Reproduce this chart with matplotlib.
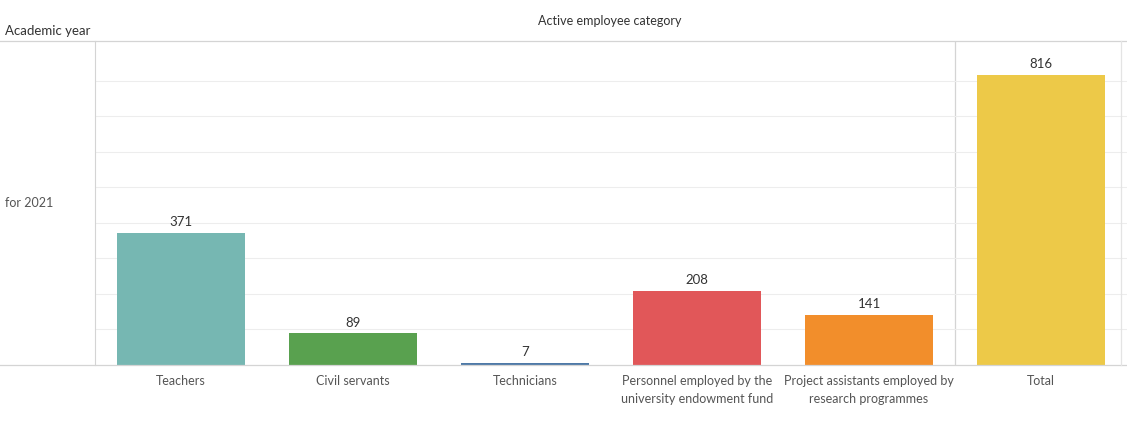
import matplotlib.pyplot as plt
from matplotlib.lines import Line2D

categories = ['Teachers', 'Civil servants', 'Technicians',
              'Personnel employed by the\nuniversity endowment fund',
              'Project assistants employed by\nresearch programmes', 'Total']
values = [371, 89, 7, 208, 141, 816]
colors = ['#76B7B2', '#59A14F', '#4E79A7', '#E15759', '#F28E2B', '#EDC948']
row_label = 'for 2021'

plt.rcParams['font.family'] = ['Lato', 'DejaVu Sans']

W, H = 1127, 423
fig = plt.figure(figsize=(W / 100, H / 100), dpi=100)
x0, x1, y0, y1 = 95, 1127, 41, 365
ax = fig.add_axes([x0 / W, 1 - y1 / H, (x1 - x0) / W, (y1 - y0) / H])

xs = list(range(len(categories)))
ax.bar(xs, values, width=0.744, color=colors, zorder=2)
for x, v in zip(xs, values):
    ax.annotate(str(v), (x, v), xytext=(0, 3.5), textcoords='offset points',
                ha='center', va='bottom', fontsize=9.5, color='#333333')

ax.set_xlim(-0.5, 5.5)
ax.set_ylim(0, 912)
ax.set_yticks(range(100, 900, 100))
ax.yaxis.grid(True, color='#ededed', linewidth=0.8, zorder=0)
ax.tick_params(axis='y', left=False, labelleft=False)
ax.set_xticks(xs)
ax.set_xticklabels(categories, fontsize=9, color='#555555', linespacing=1.6)
ax.tick_params(axis='x', length=0, pad=7)
for s in ['top', 'right', 'bottom']:
    ax.spines[s].set_visible(False)
ax.spines['left'].set_color('#d4d4d4')
ax.axvline(4.5, color='#d4d4d4', linewidth=0.9, zorder=1)

# full-width header and baseline rules
fig.add_artist(Line2D([0, 1], [1 - y0 / H] * 2, color='#d4d4d4', linewidth=0.9))
fig.add_artist(Line2D([0, 1], [1 - y1 / H] * 2, color='#d4d4d4', linewidth=0.9))
fig.add_artist(Line2D([1121 / W] * 2, [1 - y1 / H, 1 - y0 / H], color='#e4e4e4', linewidth=0.9))

fig.text(610 / W, 1 - 21 / H, 'Active employee category', ha='center', va='center',
         fontsize=9, color='#333333')
fig.text(5 / W, 1 - 31 / H, 'Academic year', ha='left', va='center',
         fontsize=9.5, color='#333333')
fig.text(5 / W, 1 - 203 / H, row_label, ha='left', va='center',
         fontsize=9, color='#555555')

fig.savefig('out.png', dpi=100, facecolor='white')
